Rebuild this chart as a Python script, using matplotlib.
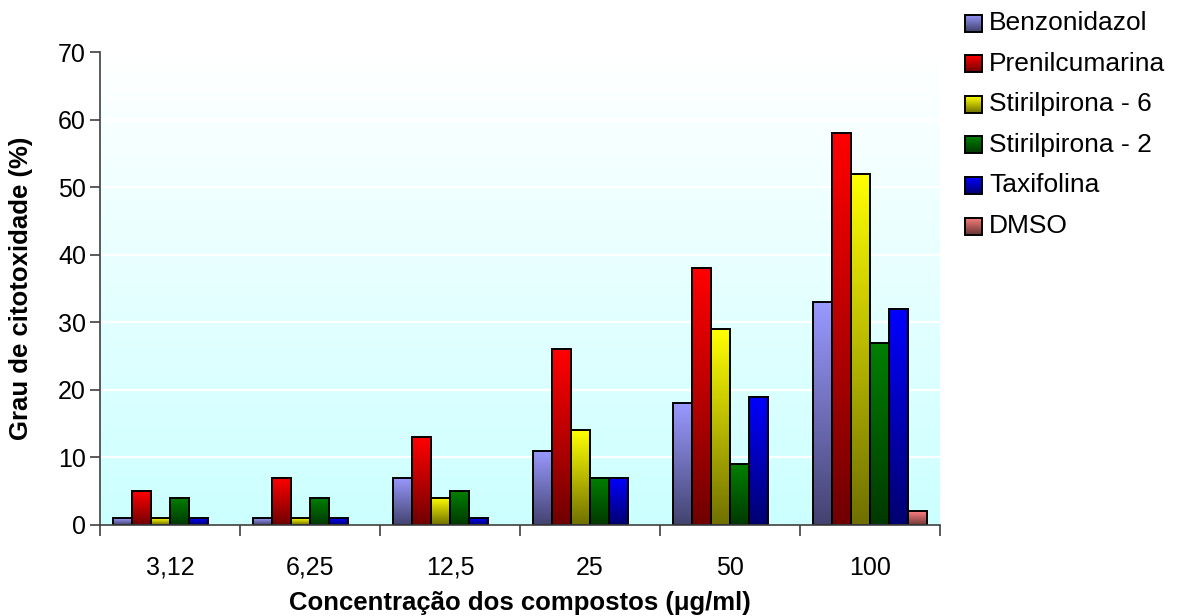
import numpy as np
import matplotlib
matplotlib.use("Agg")
import matplotlib.pyplot as plt
from matplotlib.patches import Rectangle

plt.rcParams['font.family'] = ['Liberation Sans', 'DejaVu Sans']

concentracoes = ["3,12", "6,25", "12,5", "25", "50", "100"]
series_nomes = ["Benzonidazol", "Prenilcumarina", "Stirilpirona - 6",
                "Stirilpirona - 2", "Taxifolina", "DMSO"]
benzonidazol = [1, 1, 7, 11, 18, 33]
prenilcumarina = [5, 7, 13, 26, 38, 58]
stirilpirona_6 = [1, 1, 4, 14, 29, 52]
stirilpirona_2 = [4, 4, 5, 7, 9, 27]
taxifolina = [1, 1, 1, 7, 19, 32]
dmso = [0, 0, 0, 0, 0, 2]
y_ticks = [0, 10, 20, 30, 40, 50, 60, 70]

series_valores = [benzonidazol, prenilcumarina, stirilpirona_6,
                  stirilpirona_2, taxifolina, dmso]
cores_topo = ["#9999FF", "#FF0000", "#FFFF00", "#008000", "#0000FF", "#FF8080"]
escuro = 0.44


def gradiente(cor, n=64):
    top = np.array(matplotlib.colors.to_rgb(cor))
    bot = top * escuro
    t = np.linspace(0, 1, n)[:, None]
    return (bot + (top - bot) * t)[:, None, :]


W, H = 1181, 616
fig = plt.figure(figsize=(W / 100, H / 100), dpi=100)
ax = fig.add_axes([100 / W, 1 - 525 / H, 840 / W, 473 / H])

x = np.arange(len(concentracoes))
largura = 0.136
n = len(series_nomes)

for i, (vals, cor) in enumerate(zip(series_valores, cores_topo)):
    pos = x + (i - (n - 1) / 2) * largura
    hs = [v if v > 0 else np.nan for v in vals]
    barras = ax.bar(pos, hs, width=largura, facecolor="none",
                    edgecolor="black", linewidth=1.4, zorder=3)
    img = gradiente(cor)
    for b in barras:
        h = b.get_height()
        if not np.isfinite(h) or h <= 0:
            continue
        x0 = b.get_x()
        ax.imshow(img, origin="lower", extent=(x0, x0 + b.get_width(), 0, h),
                  aspect="auto", interpolation="bilinear", zorder=2)

# plot area background: white at top fading to light cyan
xlim = (-0.5, len(concentracoes) - 0.5)
ylim = (0, 70)
bg = np.linspace(0, 1, 64)[:, None]
bot = np.array([0.80, 1.0, 1.0])
top = np.array([1.0, 1.0, 1.0])
bg_img = (bot + (top - bot) * bg)[:, None, :]
ax.imshow(bg_img, origin="lower", extent=(*xlim, *ylim), aspect="auto",
          interpolation="bilinear", zorder=0)
ax.set_xlim(xlim)
ax.set_ylim(ylim)

for yv in y_ticks[1:-1]:
    ax.axhline(yv, color="white", linewidth=1.6, zorder=1)

for s in ["top", "right"]:
    ax.spines[s].set_visible(False)
for s in ["left", "bottom"]:
    ax.spines[s].set_color("#404040")
    ax.spines[s].set_linewidth(1.2)
    ax.spines[s].set_zorder(4)

ax.set_yticks(y_ticks)
ax.tick_params(axis="y", direction="out", length=7, width=1.2,
               color="#404040", labelsize=18, pad=3)
ax.set_xticks(np.arange(len(concentracoes) + 1) - 0.5)
ax.set_xticklabels([])
ax.set_xticks(x, minor=True)
ax.set_xticklabels(concentracoes, minor=True)
ax.tick_params(axis="x", which="major", direction="out", length=8,
               width=1.2, color="#404040")
ax.tick_params(axis="x", which="minor", length=0, labelsize=18, pad=22)

ax.set_ylabel("Grau de citotoxidade (%)", fontsize=18.5, fontweight="bold",
              labelpad=18)
ax.set_xlabel("Concentração dos compostos (μg/ml)", fontsize=18.5,
              fontweight="bold", labelpad=8)

# legend drawn in pixel coordinates
lg = fig.add_axes([0, 0, 1, 1], zorder=5)
lg.set_xlim(0, W)
lg.set_ylim(H, 0)
lg.axis("off")
y0, dy, sz = 23, 40.6, 17
for k, (nome, cor) in enumerate(zip(series_nomes, cores_topo)):
    yc = y0 + k * dy
    lg.imshow(gradiente(cor)[::-1], extent=(965, 965 + sz, yc + sz / 2, yc - sz / 2),
              aspect="auto", interpolation="bilinear", zorder=1)
    lg.add_patch(Rectangle((965, yc - sz / 2), sz, sz, facecolor="none",
                           edgecolor="black", linewidth=1.4, zorder=2))
    lg.text(989, yc, nome, fontsize=19, va="center", ha="left")
lg.set_xlim(0, W)
lg.set_ylim(H, 0)

fig.savefig("out.png", dpi=100)
